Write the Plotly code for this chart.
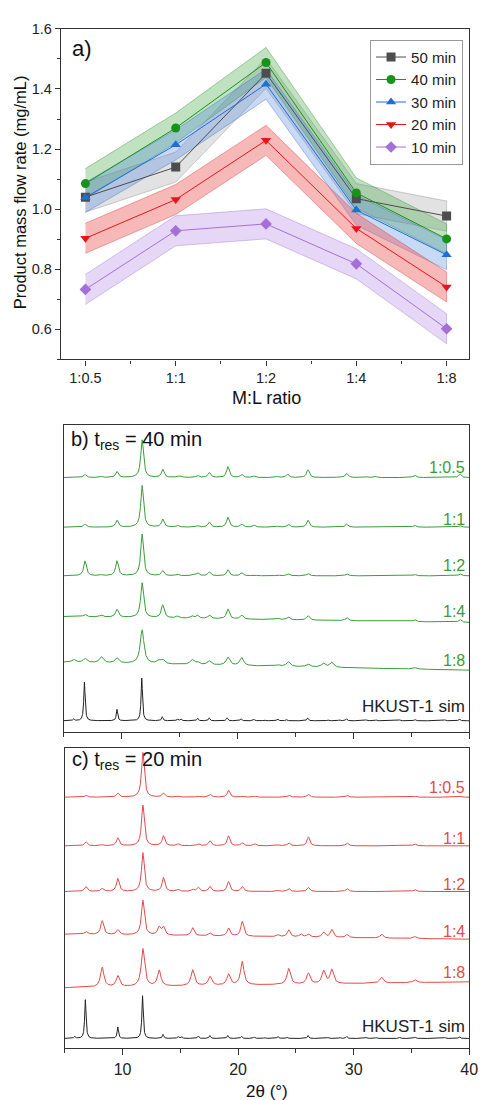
import numpy as np
import plotly.graph_objects as go

W, H = 488, 1100

# ---------------- Panel a data ----------------
ratios = ["1:0.5", "1:1", "1:2", "1:4", "1:8"]
series_names = ["50 min", "40 min", "30 min", "20 min", "10 min"]
flow_50 = [1.040, 1.140, 1.452, 1.035, 0.977]
flow_40 = [1.085, 1.270, 1.488, 1.054, 0.901]
flow_30 = [1.039, 1.214, 1.416, 0.997, 0.848]
flow_20 = [0.903, 1.032, 1.229, 0.936, 0.741]
flow_10 = [0.733, 0.928, 0.951, 0.818, 0.602]
err_50 = [0.05, 0.05, 0.05, 0.05, 0.05]
err_40 = [0.05, 0.05, 0.05, 0.05, 0.05]
err_30 = [0.05, 0.05, 0.05, 0.05, 0.05]
err_20 = [0.05, 0.05, 0.05, 0.05, 0.05]
err_10 = [0.05, 0.05, 0.05, 0.05, 0.05]

# ---------------- XRD peak data (2theta, height) ----------------
sim_pos = [5.85, 6.78, 9.59, 11.73, 13.5, 14.8, 15.1, 16.55, 17.55, 19.1, 20.3, 21.4, 22.3, 23.45,
           24.2, 26.05, 27.8, 28.8, 29.4, 31.1, 31.95, 34.0, 35.3, 37.9, 39.15]
sim_h = [2, 39, 11.5, 43, 4, 2, 2, 2.5, 3, 3, 2, 1.5, 1, 2, 1.5, 3, 1, 1, 2, 1, 1, 1, 1.5, 1, 2]

g05_pos = [6.83, 8.24, 9.59, 11.76, 13.54, 14.81, 15.14, 16.55, 17.56, 19.17, 20.36, 21.43, 23.45,
           24.3, 26.08, 28.82, 29.43, 31.07, 31.92, 35.29, 39.2]
g05_h = [3, 1, 6, 38, 8, 1.5, 1, 2, 5, 11, 3, 1.5, 1, 3.5, 8, 1, 4, 1, 1, 2.5, 3.5]
g1_pos = [6.83, 9.59, 11.76, 13.54, 14.81, 16.55, 17.56, 19.17, 20.36, 21.43, 23.45, 24.38, 26.08,
          29.43, 35.29, 39.2]
g1_h = [3, 7, 42, 8, 2, 1.5, 5, 10, 3, 2, 1, 3, 7, 3, 2, 1.5]
g2_pos = [6.83, 8.24, 9.59, 11.76, 13.54, 14.81, 16.07, 16.55, 17.56, 19.17, 20.36, 21.43, 23.45,
          24.38, 26.08, 29.43, 35.29, 39.2]
g2_h = [15, 1, 15, 42, 5, 1.5, 1, 3, 4, 6, 3, 1, 1, 2, 2.5, 2, 1.5, 2]
g4_pos = [6.83, 8.24, 9.59, 11.76, 13.54, 14.81, 16.07, 16.55, 17.56, 19.17, 20.36, 23.45, 24.38,
          26.08, 29.43, 35.29, 39.2]
g4_h = [2.5, 2, 8, 35, 13, 2, 2.5, 3, 3.5, 10, 4, 1.5, 3, 4.5, 3, 2, 3]
g8_pos = [5.85, 6.83, 8.24, 9.59, 11.76, 13.17, 13.54, 16.07, 16.55, 17.56, 19.17, 20.36, 23.45,
          24.38, 26.08, 27.4, 28.11, 35.29]
g8_h = [3, 4, 6, 5, 34, 3, 4, 5, 2.5, 4, 8, 8, 1.5, 5, 3, 4, 5, 1.5]

r05_pos = [6.83, 9.59, 11.76, 13.54, 14.81, 16.55, 17.56, 19.17, 20.36, 21.43, 24.38, 26.08, 29.43,
           35.29, 39.2]
r05_h = [2, 4, 45, 4, 1, 1, 3, 7, 1, 1, 2, 3, 2, 1, 1]
r1_pos = [6.83, 8.24, 9.59, 11.76, 13.54, 14.81, 16.55, 17.56, 19.17, 20.36, 21.43, 23.45, 24.38,
          26.08, 29.43, 35.29]
r1_h = [4, 1, 8, 41, 10, 2, 2, 5, 10, 3, 2, 1, 3, 9, 3, 2]
r2_pos = [6.83, 8.24, 9.59, 11.76, 13.54, 14.81, 16.07, 16.55, 17.56, 19.17, 20.36, 23.45, 24.38,
          26.08, 29.43, 35.29]
r2_h = [5, 3, 13, 39, 14, 2, 2, 4, 5, 10, 5, 1, 3, 4, 3, 2]
r4_pos = [6.83, 8.24, 9.59, 11.76, 13.17, 13.54, 16.07, 17.56, 19.17, 20.36, 23.45, 24.38, 25.43,
          26.08, 27.4, 28.11, 29.43, 32.41, 35.29]
r4_h = [3, 14, 5, 35, 8, 8, 8, 3, 8, 15, 2, 7, 3, 3, 5, 8, 3, 4, 2]
r8_pos = [8.24, 9.59, 11.76, 13.17, 16.07, 17.56, 19.17, 20.36, 24.38, 26.08, 27.4, 28.11, 32.41, 35.29]
r8_h = [20, 11, 38, 16, 16, 9, 11, 24, 16, 11, 13, 14, 6, 3]

pattern_labels = ["1:0.5", "1:1", "1:2", "1:4", "1:8", "HKUST-1 sim"]

# ---------------- helpers ----------------
def py(y):  # pixel row -> paper fraction
    return 1 - y / H

def px(x):
    return x / W

FONT = "Arial, Liberation Sans, sans-serif"

def profile(pos, hts, fwhm, bg_left=0.0, bg_right=0.0):
    grid = np.linspace(5, 40, 3501)
    x = np.union1d(grid, np.array(pos))
    y = np.zeros_like(x)
    g = fwhm / 2
    for p, h in zip(pos, hts):
        y += h * g * g / ((x - p) ** 2 + g * g)
    y += bg_left + (bg_right - bg_left) * (x - 5) / 35
    return x, y

fig = go.Figure()

# ---------------- Panel a ----------------
idx = list(range(len(ratios)))
a_series = [
    ("50 min", flow_50, err_50, "#4d4d4d", "square", "rgba(150,150,150,0.28)", "rgba(120,120,120,0.5)"),
    ("40 min", flow_40, err_40, "#17921a", "circle", "rgba(60,165,60,0.32)", "rgba(40,140,40,0.55)"),
    ("30 min", flow_30, err_30, "#1d6fd6", "triangle-up", "rgba(70,130,220,0.30)", "rgba(40,100,200,0.5)"),
    ("20 min", flow_20, err_20, "#e8141a", "triangle-down", "rgba(235,85,85,0.42)", "rgba(210,50,50,0.55)"),
    ("10 min", flow_10, err_10, "#a56fd8", "diamond", "rgba(175,130,225,0.32)", "rgba(150,100,210,0.5)"),
]
for name, vals, err, col, sym, fillc, edgec in a_series:
    up = [v + e for v, e in zip(vals, err)]
    lo = [v - e for v, e in zip(vals, err)]
    fig.add_trace(go.Scatter(x=idx + idx[::-1], y=up + lo[::-1], fill="toself", fillcolor=fillc,
                             line=dict(width=0.7, color=edgec), mode="lines", showlegend=False,
                             hoverinfo="skip", xaxis="x", yaxis="y"))
for name, vals, err, col, sym, fillc, edgec in a_series:
    fig.add_trace(go.Scatter(x=idx, y=vals, mode="lines+markers", name=name,
                             line=dict(width=1, color=col),
                             marker=dict(symbol=sym, size=9, color=col),
                             xaxis="x", yaxis="y"))

# ---------------- Panel b (green, 40 min) ----------------
green = "#3a9c3a"
b_specs = [
    (g05_pos, g05_h, 256, 0, 0.28, green),
    (g1_pos, g1_h, 206, 0, 0.28, green),
    (g2_pos, g2_h, 157, 0, 0.28, green),
    (g4_pos, g4_h, 116, -6, 0.3, green),
    (g8_pos, g8_h, 70, -8, 0.38, green),
    (sim_pos, sim_h, 11, 0, 0.14, "#222222"),
]
for pos, hts, off, tilt, fw, col in b_specs:
    x, y = profile(pos, hts, fw, 0, tilt)
    fig.add_trace(go.Scatter(x=x, y=y + off, mode="lines", line=dict(width=1, color=col),
                             showlegend=False, hoverinfo="skip", xaxis="x2", yaxis="y2"))

# ---------------- Panel c (red, 20 min) ----------------
red = "#e34a4a"
c_specs = [
    (r05_pos, r05_h, 253, 0, 0.28, red),
    (r1_pos, r1_h, 204, 0, 0.28, red),
    (r2_pos, r2_h, 158, 0, 0.28, red),
    (r4_pos, r4_h, 115, -5, 0.3, red),
    (r8_pos, r8_h, 61, 6, 0.35, red),
    (sim_pos, sim_h, 10, 0, 0.14, "#222222"),
]
for pos, hts, off, tilt, fw, col in c_specs:
    x, y = profile(pos, hts, fw, 0, tilt)
    fig.add_trace(go.Scatter(x=x, y=y + off, mode="lines", line=dict(width=1, color=col),
                             showlegend=False, hoverinfo="skip", xaxis="x3", yaxis="y3"))

# ---------------- annotations ----------------
ann = []
b_label_y = [266, 214, 167, 121, 72, 25]
c_label_y = [263, 211, 165, 118, 76, 22]
for lab, ly in zip(pattern_labels, b_label_y):
    sim = lab.startswith("HKUST")
    ann.append(dict(x=39.85, y=ly, xref="x2", yref="y2", text=lab, showarrow=False,
                    xanchor="right", yanchor="middle",
                    font=dict(family=FONT, size=17 if sim else 16, color="#222222" if sim else green)))
for lab, ly in zip(pattern_labels, c_label_y):
    sim = lab.startswith("HKUST")
    ann.append(dict(x=39.85, y=ly, xref="x3", yref="y3", text=lab, showarrow=False,
                    xanchor="right", yanchor="middle",
                    font=dict(family=FONT, size=17 if sim else 16, color="#222222" if sim else red)))

ann.append(dict(x=px(71), y=py(41), xref="paper", yref="paper", text="a)", showarrow=False,
                xanchor="left", yanchor="middle", font=dict(family=FONT, size=22, color="#111")))
ann.append(dict(x=px(70), y=py(436), xref="paper", yref="paper", text="b) t<sub>res</sub> = 40 min",
                showarrow=False, xanchor="left", yanchor="middle", font=dict(family=FONT, size=20, color="#111")))
ann.append(dict(x=px(71), y=py(758), xref="paper", yref="paper", text="c) t<sub>res</sub> = 20 min",
                showarrow=False, xanchor="left", yanchor="middle", font=dict(family=FONT, size=20, color="#111")))
ann.append(dict(x=px(20), y=py(186), xref="paper", yref="paper", text="Product mass flow rate (mg/mL)",
                textangle=-90, showarrow=False, xanchor="center", yanchor="middle",
                font=dict(family=FONT, size=16.5, color="#111")))
ann.append(dict(x=px(272), y=py(393), xref="paper", yref="paper", text="M:L ratio", showarrow=False,
                xanchor="center", yanchor="middle", font=dict(family=FONT, size=18, color="#111")))
ann.append(dict(x=px(272), y=py(1091), xref="paper", yref="paper", text="2θ (°)", showarrow=False,
                xanchor="center", yanchor="middle", font=dict(family=FONT, size=17, color="#111")))

axcommon = dict(showline=True, linecolor="#333", linewidth=1.2, mirror=True, showgrid=False,
                zeroline=False, tickcolor="#333", tickfont=dict(family=FONT, size=14.5, color="#222"))

fig.update_layout(
    width=W, height=H, margin=dict(l=0, r=0, t=0, b=0),
    paper_bgcolor="white", plot_bgcolor="white",
    showlegend=True,
    legend=dict(x=px(377), y=py(32), xanchor="left", yanchor="top", bordercolor="#9a9a9a",
                borderwidth=1, bgcolor="white", font=dict(family=FONT, size=15, color="#222"),
                tracegroupgap=0, itemwidth=30),
    xaxis=dict(domain=[px(62), px(478)], range=[-0.272, 4.25], tickmode="array", tickvals=idx,
               ticktext=ratios, ticks="outside", ticklen=5,
               minor=dict(tickvals=[0.5, 1.5, 2.5, 3.5], ticks="outside", ticklen=3, tickcolor="#333"),
               anchor="y", **axcommon),
    yaxis=dict(domain=[py(354), py(21)], range=[0.5, 1.6], tickmode="linear", tick0=0.6, dtick=0.2,
               tickformat=".1f", ticks="outside", ticklen=5,
               minor=dict(dtick=0.1, ticks="outside", ticklen=3, tickcolor="#333"),
               anchor="x", **axcommon),
    xaxis2=dict(domain=[px(65), px(478)], range=[5, 40], tickmode="linear", tick0=0, dtick=10,
                ticks="outside", ticklen=6, showticklabels=False,
                minor=dict(dtick=5, ticks="outside", ticklen=4, tickcolor="#333"),
                anchor="y2", **axcommon),
    yaxis2=dict(domain=[py(729), py(420)], range=[0, 309], showticklabels=False, ticks="",
                anchor="x2", **axcommon),
    xaxis3=dict(domain=[px(66), px(478)], range=[5, 40], tickmode="linear", tick0=0, dtick=10,
                ticks="outside", ticklen=6,
                minor=dict(dtick=5, ticks="outside", ticklen=4, tickcolor="#333"),
                anchor="y3", **{**axcommon, "tickfont": dict(family=FONT, size=16, color="#222")}),
    yaxis3=dict(domain=[py(1048), py(745)], range=[0, 303], showticklabels=False, ticks="",
                anchor="x3", **axcommon),
    annotations=ann,
)

fig.write_html("out.html")
